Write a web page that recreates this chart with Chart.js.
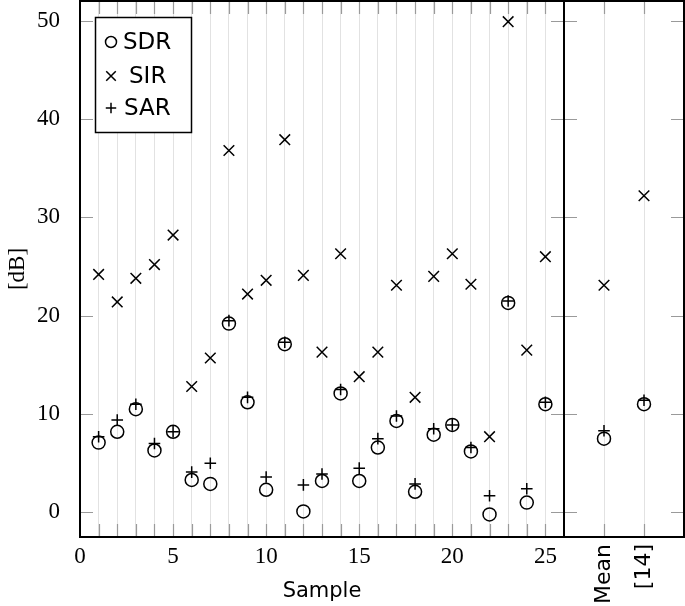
<!DOCTYPE html>
<html>
<head>
<meta charset="utf-8">
<script src="https://cdn.jsdelivr.net/npm/chart.js@4.4.1/dist/chart.umd.min.js"></script>
<style>
  html, body { margin: 0; padding: 0; background: #fff; }
  #wrap { position: relative; width: 685px; height: 606px; overflow: hidden; }
  #c1 { position: absolute; left: 0; top: 0; }
  #c2 { position: absolute; left: 563px; top: 0; }
</style>
</head>
<body>
<div id="wrap">
  <canvas id="c1" width="566" height="606"></canvas>
  <canvas id="c2" width="122" height="606"></canvas>
</div>
<script>
// ---- data ----
const samples = [1,2,3,4,5,6,7,8,9,10,11,12,13,14,15,16,17,18,19,20,21,22,23,24,25];
const sdr = [7.1, 8.2, 10.5, 6.3, 8.2, 3.3, 2.9, 19.2, 11.2, 2.3, 17.1, 0.1, 3.2, 12.1, 3.2, 6.6, 9.3, 2.1, 7.9, 8.9, 6.2, -0.2, 21.3, 1.0, 11.0];
const sir = [24.2, 21.4, 23.8, 25.2, 28.2, 12.8, 15.7, 36.8, 22.2, 23.6, 37.9, 24.1, 16.3, 26.3, 13.8, 16.3, 23.1, 11.7, 24.0, 26.3, 23.2, 7.7, 49.9, 16.5, 26.0];
const sar = [7.7, 9.4, 11.0, 7.0, 8.2, 4.1, 5.0, 19.5, 11.7, 3.6, 17.3, 2.8, 3.9, 12.5, 4.5, 7.5, 9.8, 2.9, 8.5, 8.9, 6.6, 1.7, 21.5, 2.4, 11.2];
const summaryLabels = ['Mean', '[14]'];
const summarySdr = [7.5, 11.0];
const summarySir = [23.1, 32.2];
const summarySar = [8.3, 11.4];
const seriesNames = ['SDR', 'SIR', 'SAR'];
const yTickValues = [0, 10, 20, 30, 40, 50];
const xTickValues = [0,1,2,3,4,5,6,7,8,9,10,11,12,13,14,15,16,17,18,19,20,21,22,23,24,25,26];
const summaryPositions = [1, 2];

const Y_MIN = -2.5, Y_MAX = 52;
const SERIF = '"Liberation Serif", "DejaVu Serif", serif';
const SANS = '"DejaVu Sans", "Noto Sans", sans-serif';

const markerStyles = [
  { pointStyle: 'circle', radius: 6.5 },
  { pointStyle: 'crossRot', radius: 7.5 },
  { pointStyle: 'cross', radius: 5.8 }
];

function makeDatasets(xs, series) {
  return series.map((vals, i) => ({
    label: seriesNames[i],
    data: vals.map((v, j) => ({ x: xs[j], y: v })),
    showLine: false,
    pointStyle: markerStyles[i].pointStyle,
    pointRadius: markerStyles[i].radius,
    pointHoverRadius: markerStyles[i].radius,
    borderColor: '#000',
    backgroundColor: 'rgba(0,0,0,0)',
    pointBorderWidth: 1.5,
    borderWidth: 1.5
  }));
}

function noPad(s) {
  s.paddingLeft = 0; s.paddingRight = 0; s.paddingTop = 0; s.paddingBottom = 0;
}

// frame + inward ticks plugin
const framePlugin = {
  id: 'frame',
  afterDatasetsDraw(chart, args, opts) {
    const ctx = chart.ctx;
    const a = chart.chartArea;
    const xs = chart.scales.x, ys = chart.scales.y;
    const L = 13;
    ctx.save();
    ctx.strokeStyle = '#9a9a9a';
    ctx.lineWidth = 1.2;
    ctx.beginPath();
    (opts.xt || []).forEach(v => {
      const px = Math.round(xs.getPixelForValue(v)) + 0.5;
      if (px <= a.left + 1 || px >= a.right - 1) return;
      ctx.moveTo(px, a.top); ctx.lineTo(px, a.top + L);
      ctx.moveTo(px, a.bottom); ctx.lineTo(px, a.bottom - L);
    });
    yTickValues.forEach(v => {
      const py = Math.round(ys.getPixelForValue(v)) + 0.5;
      ctx.moveTo(a.left, py); ctx.lineTo(a.left + L, py);
      ctx.moveTo(a.right, py); ctx.lineTo(a.right - L, py);
    });
    ctx.stroke();
    ctx.fillStyle = '#000';
    const l = Math.round(a.left), t = Math.round(a.top), r = Math.round(a.right), b = Math.round(a.bottom);
    ctx.fillRect(l - 1, t - 1, r - l + 2, 2);      // top
    ctx.fillRect(l - 1, b - 1, r - l + 2, 2);      // bottom
    ctx.fillRect(l - 1, t - 1, 2, b - t + 2);      // left
    ctx.fillRect(r - 1, t - 1, 2, b - t + 2);      // right
    ctx.restore();
  }
};

const legendPlugin = {
  id: 'boxLegend',
  afterDraw(chart, args, opts) {
    if (!opts.show) return;
    const ctx = chart.ctx;
    const x0 = 95.5, y0 = 17.5, w = 96, h = 115;
    ctx.save();
    ctx.fillStyle = '#fff';
    ctx.fillRect(x0, y0, w, h);
    ctx.strokeStyle = '#000';
    ctx.lineWidth = 1.5;
    ctx.strokeRect(x0, y0, w, h);
    const rows = [42, 76, 108];
    const textX = [123, 129, 124];
    ctx.font = '23px ' + SANS;
    ctx.textBaseline = 'middle';
    ctx.textAlign = 'left';
    rows.forEach((ry, i) => {
      ctx.fillStyle = 'rgba(0,0,0,0)';
      ctx.strokeStyle = '#000';
      Chart.helpers.drawPoint(ctx, {
        pointStyle: markerStyles[i].pointStyle,
        radius: i === 0 ? 5.5 : markerStyles[i].radius * 0.9,
        borderWidth: 1.5
      }, 111, ry);
      ctx.fillStyle = '#000';
      ctx.fillText(seriesNames[i], textX[i], ry + 1);
    });
    ctx.restore();
  }
};

// main chart
new Chart(document.getElementById('c1'), {
  type: 'scatter',
  data: { datasets: makeDatasets(samples, [sdr, sir, sar]) },
  plugins: [framePlugin, legendPlugin],
  options: {
    responsive: false,
    animation: false,
    events: [],
    layout: { autoPadding: false, padding: { left: 0, right: 2, top: 1, bottom: 0 } },
    plugins: {
      legend: { display: false },
      tooltip: { enabled: false },
      frame: { xt: xTickValues },
      boxLegend: { show: true }
    },
    scales: {
      x: {
        type: 'linear', min: 0, max: 26,
        afterBuildTicks: s => { s.ticks = xTickValues.map(v => ({ value: v })); },
        afterFit: s => { s.height = 69; noPad(s); },
        grid: { color: '#e2e2e2', lineWidth: 1, drawTicks: false },
        border: { display: false },
        ticks: {
          autoSkip: false, maxRotation: 0, padding: 6,
          color: '#000', font: { family: SERIF, size: 23 },
          callback: v => (v % 5 === 0 ? String(v) : '')
        },
        title: { display: true, text: 'Sample', color: '#000', font: { family: SANS, size: 21 }, padding: { top: 0, bottom: 2 } }
      },
      y: {
        type: 'linear', min: Y_MIN, max: Y_MAX,
        afterBuildTicks: s => { s.ticks = yTickValues.map(v => ({ value: v })); },
        afterFit: s => { s.width = 80; noPad(s); },
        grid: { display: false },
        border: { display: false },
        ticks: { padding: 12, color: '#000', font: { family: SERIF, size: 23 } },
        title: { display: true, text: '[dB]', color: '#000', font: { family: SERIF, size: 23 }, padding: { top: 4, bottom: 0 } }
      }
    }
  }
});

// summary panel
new Chart(document.getElementById('c2'), {
  type: 'scatter',
  data: { datasets: makeDatasets(summaryPositions, [summarySdr, summarySir, summarySar]) },
  plugins: [framePlugin],
  options: {
    responsive: false,
    animation: false,
    events: [],
    layout: { autoPadding: false, padding: { left: 1, right: 1, top: 1, bottom: 0 } },
    plugins: {
      legend: { display: false },
      tooltip: { enabled: false },
      frame: { xt: summaryPositions }
    },
    scales: {
      x: {
        type: 'linear', min: 0, max: 3,
        afterBuildTicks: s => { s.ticks = summaryPositions.map(v => ({ value: v })); },
        afterFit: s => { s.height = 69; noPad(s); },
        grid: { color: '#e2e2e2', lineWidth: 1, drawTicks: false },
        border: { display: false },
        ticks: {
          autoSkip: false, minRotation: 90, maxRotation: 90, padding: 7,
          color: '#000', font: { family: SANS, size: 22 },
          callback: v => summaryLabels[summaryPositions.indexOf(v)] || ''
        }
      },
      y: {
        type: 'linear', min: Y_MIN, max: Y_MAX, display: false,
        afterBuildTicks: s => { s.ticks = yTickValues.map(v => ({ value: v })); },
        afterFit: s => { noPad(s); }
      }
    }
  }
});
</script>
</body>
</html>
